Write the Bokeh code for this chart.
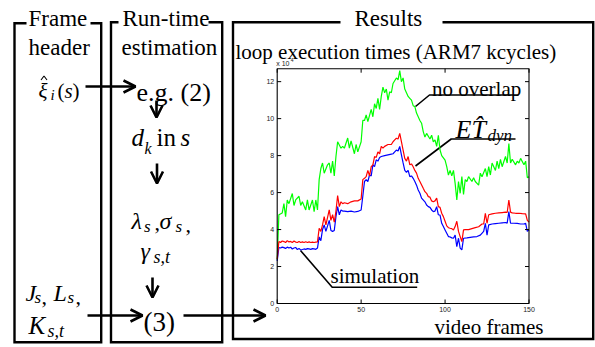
from bokeh.plotting import figure
from bokeh.models import Range1d, Arrow, OpenHead
from bokeh.core.properties import value
from bokeh.embed import file_html
from bokeh.resources import INLINE

# ---------------- data (values in units of 10^4 ARM7 cycles) ----------------
green_points = [(0,2.36),(1,4.8),(3,4.9),(4,5.4),(5,4.7),(6,5.6),(7,5.4),(9,5.95),(10,5.3),(11,5.6),
    (13,5.8),(14,5.3),(15,5.5),(17,5.06),(18,5.6),(19,5.06),(21,5.6),(22,4.97),(23,5.6),(24,5.06),
    (25,6.7),(26,7.3),(27,7.6),(28,7.05),(30,7.5),(31,7.6),(32,7.05),(33,7.7),(34,6.9),(35,7.95),
    (36,8.75),(38,8.4),(39,8.5),(40,8.4),(42,8.95),(43,8.4),(44,8.8),(46,8.1),(47,8.6),(48,8.2),
    (50,8.75),(51,9.9),(52,9.9),(53,10.2),(54,9.84),(56,10.5),(57,10.1),(58,10.8),(59,10.55),(60,11.1),
    (61,10.5),(62,11.2),(63,11.7),(64,11.4),(65,11.6),(66,11.0),(67,11.45),(68,11.4),(69,11.9),(71,12.2),
    (72,12.1),(73,12.6),(74,12.0),(75,12.2),(76,11.6),(77,11.4),(78,11.2),(79,11.1),(80,11.0),(81,10.7),
    (82,10.65),(83,10.3),(85,9.9),(86,9.75),(87,9.3),(88,9.0),(89,9.2),(91,8.9),(92,9.1),(93,8.75),
    (94,8.85),(95,8.5),(96,9.1),(97,8.3),(98,8.0),(100,7.75),(101,7.4),(102,6.95),(103,7.2),(104,6.9),
    (105,7.2),(106,6.5),(107,5.6),(108,6.6),(109,5.96),(110,6.86),(111,5.9),(112,6.7),(113,6.6),(114,6.86),
    (116,6.6),(117,6.8),(118,6.6),(120,6.4),(121,7.05),(122,6.86),(124,7.3),(125,6.86),(126,7.4),(127,6.95),
    (128,7.6),(130,7.2),(131,7.7),(132,7.3),(133,7.8),(134,7.4),(136,7.95),(137,7.6),(138,8.65),(139,7.6),
    (140,7.8),(142,7.5),(143,7.7),(144,7.6),(145,7.85),(147,7.5),(148,7.7),(149,6.8),(150,6.86)]

red_points = [(0,2.4),(1,3.35),(2,3.3),(3,3.38),(4,3.35),(5,3.3),(6,3.4),(7,3.33),(8,3.36),(9,3.3),
    (10,3.38),(11,3.32),(12,3.3),(13,3.35),(14,3.3),(15,3.33),(16,3.3),(17,3.34),(18,3.3),(19,3.33),
    (20,3.3),(21,3.32),(22,3.3),(23,3.32),(24,3.33),(25,4.07),(26,3.9),(27,4.25),(28,4.7),(29,4.25),
    (31,5.06),(32,4.5),(33,4.8),(34,4.4),(35,5.0),(36,5.84),(37,5.24),(38,5.5),(39,5.4),(40,5.45),
    (42,5.4),(44,5.5),(46,5.55),(48,5.55),(50,5.65),(51,6.7),(52,6.77),(53,6.86),(54,7.2),(55,6.9),
    (56,7.4),(57,7.5),(58,7.95),(59,7.9),(60,8.2),(61,8.1),(62,8.5),(63,8.4),(64,8.5),(66,8.6),
    (68,8.6),(69,8.75),(70,8.85),(71,8.94),(72,8.9),(73,9.2),(74,8.75),(75,8.3),(76,7.85),(77,7.7),
    (78,7.95),(79,7.5),(80,7.55),(81,7.4),(82,7.2),(83,7.05),(84,6.77),(85,6.6),(87,6.23),(88,6.05),
    (89,5.96),(90,5.78),(91,5.75),(92,5.55),(93,5.5),(94,5.55),(95,5.7),(96,5.24),(97,5.2),(98,4.88),
    (99,4.7),(100,4.45),(101,4.2),(102,4.1),(103,4.07),(104,4.05),(105,3.98),(106,4.16),(107,4.45),(108,3.9),
    (109,3.62),(110,3.35),(111,3.98),(112,4.0),(114,4.0),(116,4.05),(118,4.1),(120,4.15),(122,4.3),(123,4.3),
    (124,4.88),(125,4.34),(126,4.8),(128,4.85),(130,4.88),(132,4.9),(134,4.92),(136,4.94),(137,4.92),(138,5.6),
    (139,4.94),(140,4.9),(142,4.88),(144,4.88),(146,4.86),(148,4.85),(149,4.5),(150,4.4)]

blue_points = [(0,2.3),(1,3.03),(2,3.0),(3,3.05),(4,3.02),(5,2.98),(6,3.05),(7,3.0),(8,3.04),(9,2.95),
    (10,3.0),(11,3.03),(12,2.92),(13,2.97),(14,2.9),(15,2.92),(16,2.95),(17,2.93),(18,2.97),(19,2.95),
    (20,2.93),(21,2.97),(22,2.95),(23,2.93),(24,3.0),(25,3.6),(26,3.4),(27,4.0),(28,4.25),(29,3.9),
    (31,4.5),(32,3.95),(33,3.9),(34,3.95),(35,4.7),(36,5.24),(37,4.8),(38,5.06),(39,5.0),(40,5.0),
    (42,4.97),(44,5.0),(46,4.95),(48,4.98),(50,5.06),(51,5.8),(52,6.6),(53,6.7),(54,6.6),(55,6.95),
    (56,6.9),(57,7.5),(58,7.4),(59,7.77),(60,7.7),(61,7.9),(62,7.95),(64,8.0),(66,8.04),(68,8.08),
    (69,8.1),(70,8.2),(71,8.3),(72,8.25),(73,8.5),(74,8.04),(75,7.6),(76,7.2),(77,7.1),(78,7.2),
    (79,6.86),(80,6.9),(81,6.77),(82,6.6),(83,6.4),(84,6.14),(85,5.96),(86,5.7),(88,5.5),(89,5.33),
    (90,5.24),(91,5.2),(92,5.06),(93,4.97),(94,5.0),(95,5.24),(96,4.8),(97,4.78),(98,4.34),(99,4.16),
    (100,3.98),(101,3.8),(102,3.62),(103,3.6),(104,3.55),(105,3.53),(106,3.7),(107,3.08),(108,3.53),(109,3.0),
    (110,2.9),(111,3.53),(113,3.55),(115,3.58),(117,3.6),(119,3.62),(121,3.7),(123,3.9),(124,4.34),(125,3.7),
    (126,4.25),(128,4.3),(130,4.32),(132,4.34),(134,4.36),(136,4.38),(137,4.35),(138,4.97),(139,4.34),(141,4.34),
    (143,4.33),(145,4.3),(147,4.3),(148,4.34),(149,3.9),(150,3.98)]

x_ticks = [0, 50, 100, 150]
x_tick_labels = ["0", "50", "100", "150"]
y_ticks = [0, 2, 4, 6, 8, 10, 12]
y_tick_labels = ["0", "2", "4", "6", "8", "10", "12"]
XLIM = (0, 150)
YLIM = (0, 12.7)

# ---------------- layout (reference pixel space 595 x 347) ----------------
REF_W, REF_H = 595, 347
W, H = 595, 347
S = 1.0
SERIF = "Liberation Serif"
SANS = "Liberation Sans"

p = figure(width=W, height=H, x_range=Range1d(0, REF_W), y_range=Range1d(REF_H, 0),
           output_backend="svg", toolbar_location=None, min_border=0,
           x_axis_type=None, y_axis_type=None)
p.grid.visible = False
p.outline_line_color = None
p.background_fill_color = "white"
p.border_fill_color = "white"

# inner chart placement
CH_L, CH_R, CH_T, CH_B = 276.7, 528.5, 68.2, 303.0
fx = (XLIM[1] - XLIM[0]) / (CH_R - CH_L)
fy = (YLIM[1] - YLIM[0]) / (CH_B - CH_T)
p.extra_x_ranges = {"fr": Range1d(XLIM[0] - CH_L * fx, XLIM[1] + (REF_W - CH_R) * fx)}
p.extra_y_ranges = {"kc": Range1d(YLIM[0] - (REF_H - CH_B) * fy, YLIM[1] + CH_T * fy)}
CH = dict(x_range_name="fr", y_range_name="kc")


def txt(x, y, s, size, style="normal", align="left", font=SERIF, color="black"):
    p.text(x=[x], y=[y], text=[s], text_font=value(font), text_font_size=f"{round(size*S)}px",
           text_font_style=style, text_align=align, text_baseline="alphabetic", text_color=color)


# boxes with gaps for titles
boxes = [
    ([26, 14, 14, 100.7, 100.7, 90], [22.7, 22.7, 341.7, 341.7, 22.7, 22.7]),
    ([118, 110.5, 110.5, 221.7, 221.7, 208], [21.7, 21.7, 341.7, 341.7, 21.7, 21.7]),
    ([340, 232.5, 232.5, 592.7, 592.7, 442], [21.7, 21.7, 338.5, 338.5, 21.7, 21.7]),
]
p.multi_line([b[0] for b in boxes], [b[1] for b in boxes], line_color="black",
             line_width=2.4, line_join="miter")

# column titles
txt(28, 18.3, "Frame", 23)
txt(28, 46.5, "header", 23)
txt(122, 18.3, "Run-time", 23)
txt(121, 46.5, "estimation", 23)
txt(354, 18.3, "Results", 23)

# left column
txt(38, 90, "\u03be", 21, "italic")
p.line([40.5, 43.5, 46.5], [79.5, 75.5, 79.5], line_color="black", line_width=1.1)  # hat accent
txt(50, 94, "i", 15, "italic")
txt(57, 90, "(", 21)
txt(64, 90, "s", 21, "italic")
txt(72, 90, ")", 21)
txt(25, 292, "J", 24, "italic")
txt(34, 297, "s", 17, "italic")
txt(41, 296, ",", 22)
txt(53, 292, "L", 24, "italic")
txt(67, 297, "s", 17, "italic")
txt(75, 296, ",", 22)
txt(28, 325, "K", 25, "italic")
txt(47, 330, "s,t", 18, "italic")

# middle column
txt(136, 92, "e.g. (2)", 26.5)
txt(131, 136.5, "d", 25, "italic")
txt(144, 148, "k", 16, "italic")
txt(156, 136.5, "in", 25)
txt(180, 136.5, "s", 25, "italic")
txt(131, 220, "\u03bb", 24, "italic")
txt(143.5, 226, "s", 17, "italic")
txt(154, 222, ",", 22)
txt(159, 220, "\u03c3", 24, "italic")
txt(175, 226, "s", 17, "italic")
txt(185, 224, ",", 22)
txt(140, 250, "\u03b3", 24, "italic")
txt(153, 256, "s,t", 18, "italic")
txt(143, 321, "(3)", 27)

# arrows
arrows = [((85, 86), (135, 86)), ((156, 100), (156, 117)), ((156.5, 163), (156.5, 183)),
          ((152, 277), (152, 297)), ((87, 315), (142, 315)), ((183, 315), (265, 315))]
for (xs, ys), (xe, ye) in arrows:
    p.add_layout(Arrow(end=OpenHead(size=12, line_width=2.6, line_color="black"),
                       x_start=xs, y_start=ys, x_end=xe, y_end=ye,
                       line_width=2.6, line_color="black"))

# results column texts
txt(235, 51.7, "loop execution times (ARM7 kcycles)", 20.8)
txt(431.5, 88.3, "no overlap", 20.8)
txt(455, 129, "ET\u0302", 26, "italic")
txt(487, 135, "dyn", 17, "italic")
txt(330, 275, "simulation", 20.8)
txt(434, 326.7, "video frames", 20.8)

leaders = [([518, 429, 415], [94.5, 94.5, 106]),
           ([515, 450.7, 415], [138.5, 138.5, 165.5]),
           ([416.7, 331.7, 300], [286.7, 286.7, 250])]
p.multi_line([l[0] for l in leaders], [l[1] for l in leaders], line_color="black", line_width=1.6)

# ---------------- inner chart ----------------
for pts, col in ((green_points, "#00ff00"), (blue_points, "#0000ff"), (red_points, "#ff0000")):
    p.line([a for a, b in pts], [b for a, b in pts], line_color=col, line_width=1.2, **CH)

p.quad(left=[XLIM[0]], right=[XLIM[1]], bottom=[YLIM[0]], top=[YLIM[1]],
       fill_color=None, line_color="black", line_width=1.1, **CH)

tlx, tly = 4 * fx, 4 * fy
ny, nx = len(y_ticks), len(x_ticks)
p.segment(x0=[XLIM[0]] * ny, x1=[XLIM[0] + tlx] * ny, y0=y_ticks, y1=y_ticks, line_color="black", **CH)
p.segment(x0=[XLIM[1]] * ny, x1=[XLIM[1] - tlx] * ny, y0=y_ticks, y1=y_ticks, line_color="black", **CH)
p.segment(x0=x_ticks, x1=x_ticks, y0=[YLIM[0]] * nx, y1=[YLIM[0] + tly] * nx, line_color="black", **CH)
p.segment(x0=x_ticks, x1=x_ticks, y0=[YLIM[1]] * nx, y1=[YLIM[1] - tly] * nx, line_color="black", **CH)

p.text(x=[XLIM[0]] * ny, y=y_ticks, text=y_tick_labels, x_offset=-3, text_align="right",
       text_baseline="middle", text_font=value(SANS), text_font_size="7px", text_color="#222222", **CH)
p.text(x=x_ticks, y=[YLIM[0]] * nx, text=x_tick_labels, y_offset=3, text_align="center",
       text_baseline="top", text_font=value(SANS), text_font_size="7px", text_color="#222222", **CH)
p.text(x=[XLIM[0]], y=[YLIM[1]], text=["x 10"], x_offset=-1, y_offset=-5, text_align="left",
       text_baseline="alphabetic", text_font=value(SANS), text_font_size="7px", text_color="#222222", **CH)
p.text(x=[XLIM[0]], y=[YLIM[1]], text=["4"], x_offset=13.5, y_offset=-9, text_align="left",
       text_baseline="alphabetic", text_font=value(SANS), text_font_size="5px", text_color="#222222", **CH)

open("out.html", "w").write(file_html(p, INLINE))
